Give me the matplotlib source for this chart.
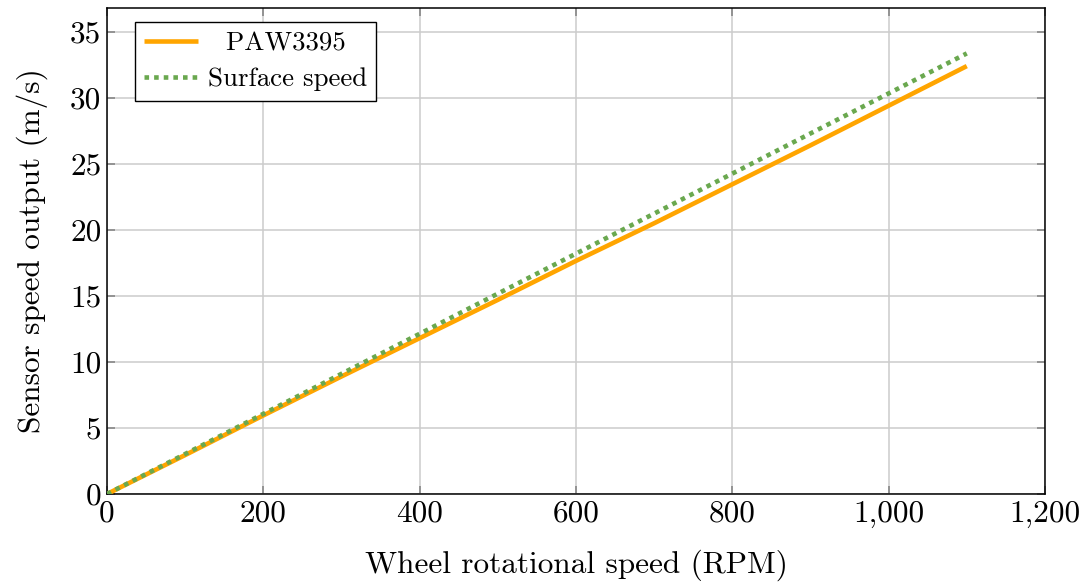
import numpy as np
import matplotlib
matplotlib.use('Agg')
import matplotlib.pyplot as plt
from matplotlib.ticker import FuncFormatter

plt.rcParams['font.family'] = 'cmr10'
plt.rcParams['mathtext.fontset'] = 'cm'
plt.rcParams['axes.formatter.use_mathtext'] = True

# data
rpm = [0, 100, 200, 300, 400, 500, 600, 700, 800, 900, 1000, 1100]
paw3395 = [0, 2.95, 5.95, 8.9, 11.8, 14.7, 17.65, 20.5, 23.45, 26.4, 29.4, 32.4]
surface = [0, 3.03, 6.07, 9.1, 12.13, 15.17, 18.2, 21.23, 24.26, 27.3, 30.33, 33.36]

xticks = [0, 200, 400, 600, 800, 1000, 1200]
yticks = [0, 5, 10, 15, 20, 25, 30, 35]

fig = plt.figure(figsize=(10.86, 5.87), dpi=100)
ax = fig.add_axes([0.0985, 0.1584, 0.8637, 0.828])

# legend entries are centred in the original, hence the leading spaces
ax.plot(rpm, paw3395, color='#ffa500', linewidth=3.3, label='  PAW3395',
        solid_capstyle='butt', zorder=3)
ax.plot(rpm, surface, color='#6aa84f', linewidth=3.3, label='Surface speed',
        linestyle=(0, (1, 1.1)), dash_capstyle='butt', zorder=4)

ax.set_xlim(0, 1200)
ax.set_ylim(0, 36.8)
ax.set_xticks(xticks)
ax.set_yticks(yticks)
ax.xaxis.set_major_formatter(FuncFormatter(lambda v, p: f'{v:,.0f}'))
ax.yaxis.set_major_formatter(FuncFormatter(lambda v, p: f'{v:.0f}'))

ax.grid(True, color='#cccccc', linewidth=1.1)
ax.set_axisbelow(True)
ax.tick_params(direction='in', length=6, width=1.1, color='#808080',
               top=True, right=True, labelsize=22.5, pad=4)
for s in ax.spines.values():
    s.set_linewidth(1.1)
    s.set_color('black')

ax.set_xlabel('Wheel rotational speed (RPM)', fontsize=22.5, labelpad=16)
ax.set_ylabel('Sensor speed output (m/s)', fontsize=22.5, labelpad=16)

leg = ax.legend(loc='upper left', bbox_to_anchor=(135 / 1086, 1 - 22 / 587),
                bbox_transform=fig.transFigure, borderaxespad=0,
                fontsize=19.4, fancybox=False, edgecolor='black', framealpha=1,
                handlelength=2.0, handletextpad=0.35, borderpad=0.35,
                labelspacing=0.45)
leg.get_frame().set_linewidth(1.0)

fig.savefig('out.png', dpi=100)
